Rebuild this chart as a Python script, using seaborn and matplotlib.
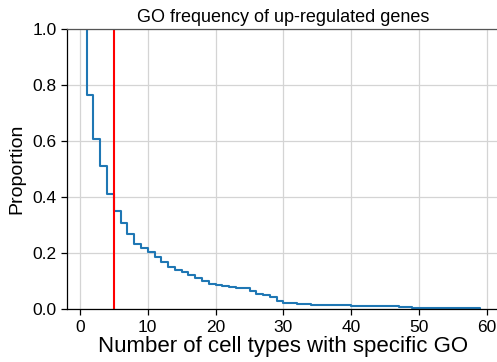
import numpy as np
import pandas as pd
import matplotlib
matplotlib.use("Agg")
import matplotlib.pyplot as plt
import seaborn as sns

# Number of cell types in which each GO term is found, with how many GO terms share that count
cell_types = [1, 2, 3, 4, 5, 6, 7, 8, 9, 10,
              11, 12, 13, 14, 15, 16, 17, 18, 19, 20,
              21, 22, 23, 25, 26, 27, 28, 29, 30, 32,
              34, 40, 47, 49, 51, 59]
go_counts = [117, 80, 48, 49, 30, 22, 20, 17, 7, 8,
             9, 8, 9, 6, 3, 6, 5, 5, 6, 1,
             2, 2, 2, 6, 4, 3, 3, 7, 4, 1,
             2, 2, 2, 1, 1, 2]
cutoff = 5

df = pd.DataFrame({"cell_types": cell_types, "go_counts": go_counts})

sns.set_style("ticks")
plt.rcParams["font.family"] = ["Liberation Sans", "DejaVu Sans"]
plt.rcParams.update({
    "text.color": "black",
    "axes.labelcolor": "black",
    "xtick.color": "black",
    "ytick.color": "black",
})

fig = plt.figure(figsize=(4.97, 3.62), dpi=100)
ax = fig.add_axes([0.1348, 0.1456, 0.871, 0.7743])

sns.ecdfplot(data=df, x="cell_types", weights="go_counts",
             complementary=True, stat="proportion",
             color="#1f77b4", linewidth=1.5, ax=ax)
ax.axvline(cutoff, color="red", linewidth=1.5)

ax.grid(True, color="#d4d4d4", linewidth=0.9)
ax.set_axisbelow(True)
for side in ["left", "bottom", "top", "right"]:
    ax.spines[side].set_visible(True)
    ax.spines[side].set_color("black")
    ax.spines[side].set_linewidth(0.9)
ax.spines["top"].set_color("#555555")

ax.set_xticks([0, 10, 20, 30, 40, 50, 60])
ax.set_yticks([0.0, 0.2, 0.4, 0.6, 0.8, 1.0])
ax.set_ylim(0, 1)
ax.tick_params(labelsize=12.5, length=4, width=0.9)
ax.set_xlabel("Number of cell types with specific GO", fontsize=16, labelpad=1)
ax.set_ylabel("Proportion", fontsize=14, labelpad=5)
ax.set_title("GO frequency of up-regulated genes", fontsize=13, pad=5)

fig.savefig("out.png", dpi=100)
